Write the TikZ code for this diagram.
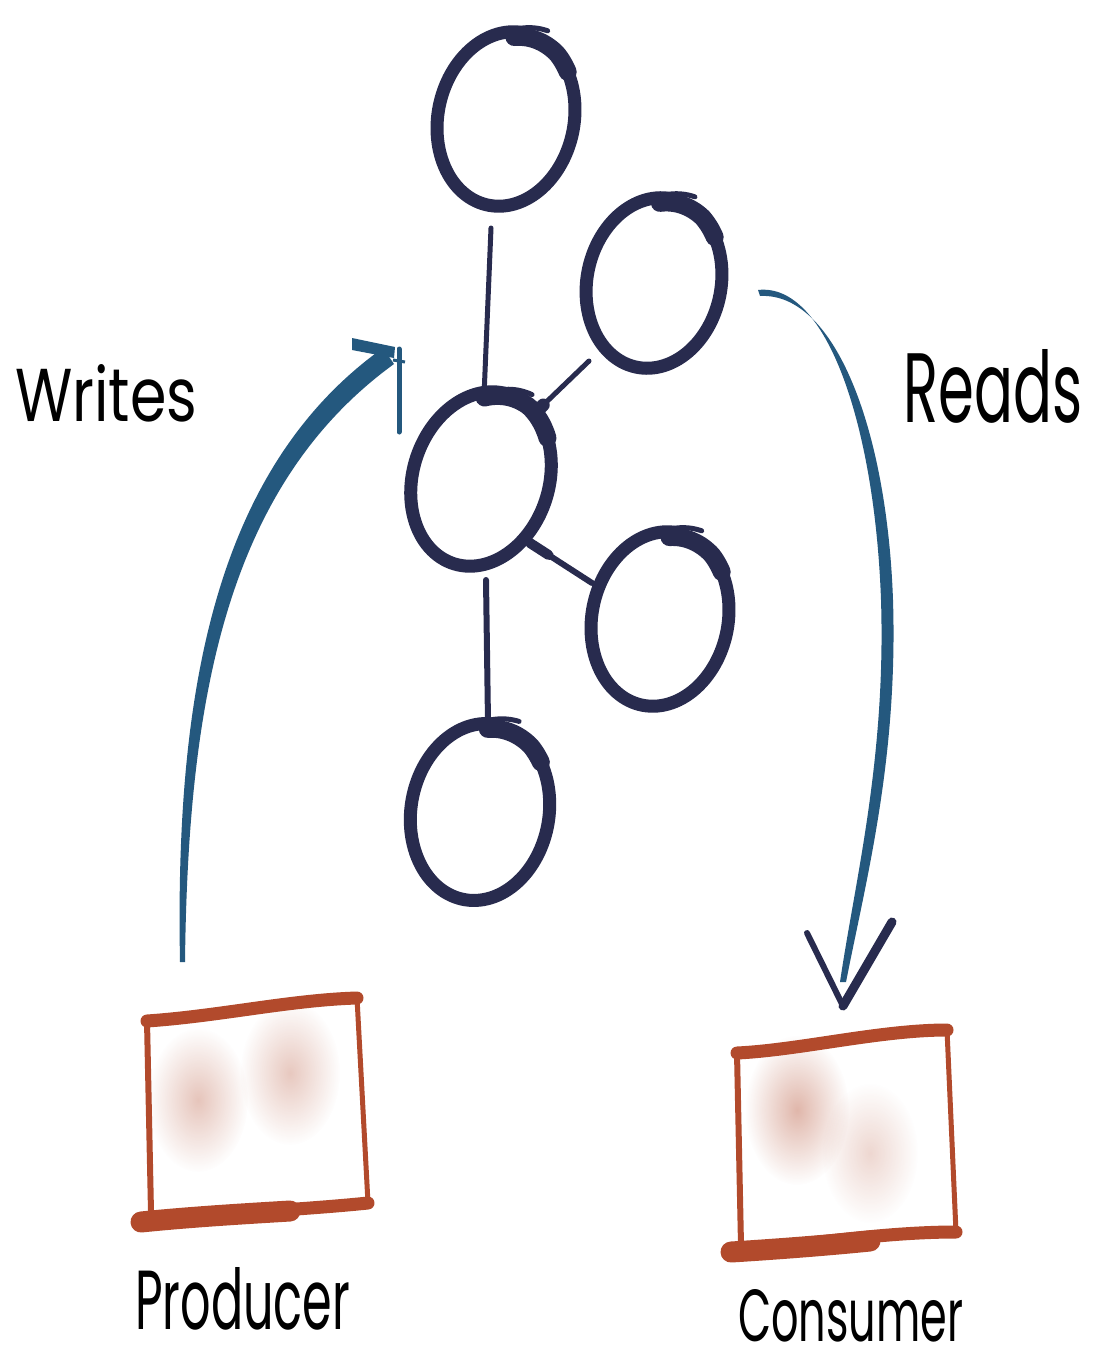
\documentclass[tikz,border=0pt]{standalone}
\usepackage{fontspec}
\setmainfont{Poppins}
\usepackage{graphicx}
\usetikzlibrary{fadings,calc}

\definecolor{inknavy}{RGB}{40,43,78}
\definecolor{inkblue}{RGB}{36,88,126}
\definecolor{inkrust}{RGB}{178,74,44}

\tikzfading[name=softblob, inner color=transparent!0, outer color=transparent!100]

\tikzset{
  ringline/.style={draw=inknavy, line width=13pt, line cap=round, line join=round},
  ringstart/.style={draw=inknavy, line width=18pt, line cap=round},
  ringtail/.style={draw=inknavy, line width=5pt, line cap=round},
  edgeline/.style={draw=inknavy, line width=5pt, line cap=round},
  boxtop/.style={draw=inkrust, line width=13pt, line cap=round},
  boxside/.style={draw=inkrust, line width=6pt, line cap=round},
  boxbase/.style={draw=inkrust, line width=13pt, line cap=round},
  boxbasethick/.style={draw=inkrust, line width=21pt, line cap=round},
  label/.style={inner sep=0pt, anchor=base west, text=black},
}

% hand-drawn ring: centre x, centre y, x radius, y radius, lean to the right,
% angle where the pen sets down (the stroke runs clockwise from there)
\newcommand\handring[6]{%
  \begin{scope}[shift={(#1,#2)}, rotate=-#5]
    \draw[ringline] plot[domain=#6:266, samples=120, smooth]
      ({#3*min(1,0.94+0.0015*(\x-(#6)))*cos(\x)}, {#4*min(1,0.94+0.0015*(\x-(#6)))*sin(\x)});
    \draw[ringstart] plot[domain=#6:-42, samples=24, smooth]
      ({#3*min(1,0.94+0.0015*(\x-(#6)))*cos(\x)}, {#4*min(1,0.94+0.0015*(\x-(#6)))*sin(\x)});
    \draw[ringtail] plot[domain=255:287, samples=24, smooth]
      ({#3*(1+0.004*(\x-255))*cos(\x)}, {#4*(1+0.004*(\x-255))*sin(\x)});
  \end{scope}}

\begin{document}
\begin{tikzpicture}[x=1pt, y=-1pt]
  \useasboundingbox (0,0) rectangle (1094,1351);
  \fill[white] (0,0) rectangle (1094,1351);

  % the five rings of the graph
  \handring{506}{119}{68}{88}{12}{-98}
  \handring{654}{283}{67}{86}{12}{-100}
  \handring{481}{479}{68}{89}{18}{-110}
  \handring{660}{619}{68}{88}{12}{-97}
  \handring{480}{812}{69}{89}{10}{-96}

  % attachment points of the links
  \coordinate (c1-bottom) at (491,228);
  \coordinate (c3-top)    at (484,396);
  \coordinate (c2-foot)   at (589,361);
  \coordinate (c3-ne)     at (537,411);
  \coordinate (c3-se)     at (530,543);
  \coordinate (c4-west)   at (592,583);
  \coordinate (c3-bottom) at (486,580);
  \coordinate (c5-top)    at (488,722);

  \draw[edgeline] (c1-bottom) -- (c3-top);
  \draw[edgeline] (c2-foot) -- (c3-ne);
  \draw[inknavy, line width=13pt, line cap=round] (c3-ne) -- ($(c3-ne)!0.12!(c2-foot)$);
  \draw[edgeline, line width=6pt] (c3-se) -- (c4-west);
  \draw[inknavy, line width=10pt, line cap=round] (c3-se) -- ($(c3-se)!0.3!(c4-west)$);
  \draw[edgeline, line width=6pt] (c3-bottom) -- (c5-top);

  % producer box
  \fill[inkrust, opacity=0.32, path fading=softblob] (198,1100) ellipse (50 and 72);
  \fill[inkrust, opacity=0.30, path fading=softblob] (290,1073) ellipse (50 and 72);
  \coordinate (p-tl) at (147,1021);
  \coordinate (p-tr) at (357,998);
  \coordinate (p-br) at (368,1203);
  \coordinate (p-bl) at (151,1212);
  \draw[boxside] (p-tl) -- (p-bl);
  \draw[boxside, line width=5pt] (p-tr) -- (p-br);
  \draw[boxtop] (p-tl) .. controls (220,1016) and (290,1000) .. (p-tr);
  \draw[boxbase] (140,1221) .. controls (220,1213) and (300,1210) .. (p-br);
  \draw[boxbasethick] (141,1222) .. controls (190,1217) and (240,1214) .. (290,1211);

  % consumer box
  \fill[inkrust, opacity=0.40, path fading=softblob] (797,1110) ellipse (52 and 75);
  \fill[inkrust, opacity=0.22, path fading=softblob] (870,1153) ellipse (48 and 70);
  \coordinate (q-tl) at (737,1053);
  \coordinate (q-tr) at (947,1030);
  \coordinate (q-br) at (956,1232);
  \coordinate (q-bl) at (741,1245);
  \draw[boxside] (q-tl) -- (q-bl);
  \draw[boxside, line width=5pt] (q-tr) -- (q-br);
  \draw[boxtop] (q-tl) .. controls (800,1050) and (880,1030) .. (q-tr);
  \draw[boxbase] (730,1251) .. controls (800,1246) and (880,1232) .. (q-br);
  \draw[boxbasethick] (731,1252) .. controls (780,1249) and (830,1245) .. (870,1241);

  % writes arrow, tapering from the producer up to the graph
  \coordinate (w-start) at (182,960);
  \coordinate (w-tip) at (388,356);
  \fill[inkblue] (180,962) .. controls (175,700) and (212,470) .. (383,348)
    -- (394,364) .. controls (226,486) and (188,700) .. (185,962) -- cycle;
  \fill[inkblue] (352,338) -- (395,347) -- (394,358) -- (352,350) -- cycle;
  \draw[inkblue, line width=5pt, line cap=round] (399,349) -- (399,432);
  \draw[inkblue, line width=3pt] (393,360) -- (405,362);

  % reads arrow, from the graph down to the consumer
  \fill[inkblue] (758,290) .. controls (828,282) and (875,430) .. (881,600)
    .. controls (886,760) and (855,880) .. (840,982)
    -- (846,982) .. controls (866,880) and (898,760) .. (893,600)
    .. controls (887,430) and (835,292) .. (760,296) -- cycle;
  \coordinate (r-tip) at (843,1006);
  \draw[inknavy, line width=6pt, line cap=round] (807,933) -- (r-tip);
  \draw[inknavy, line width=9pt, line cap=round] (892,922) -- (r-tip);

  % labels
  \node[label] (writes) at (15,421) {\resizebox{182pt}{57pt}{Writes}};
  \node[label] (reads) at (903,422) {\resizebox{179pt}{73pt}{Reads}};
  \node[label] (producer) at (135,1329) {\resizebox{215pt}{62pt}{Producer}};
  \node[label] (consumer) at (738,1341) {\resizebox{225pt}{52pt}{Consumer}};
\end{tikzpicture}
\end{document}
